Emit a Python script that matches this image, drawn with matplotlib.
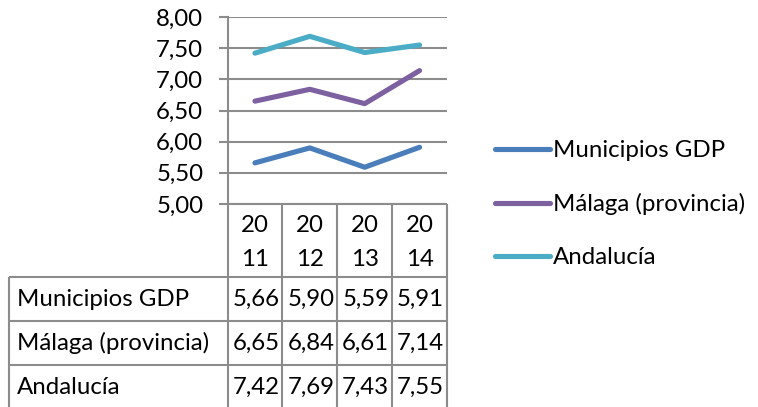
import matplotlib.pyplot as plt
from matplotlib.lines import Line2D

plt.rcParams['font.family'] = ['Lato', 'DejaVu Sans']

# data
years = ['2011', '2012', '2013', '2014']
series_names = ['Municipios GDP', 'Málaga (provincia)', 'Andalucía']
municipios = [5.66, 5.90, 5.59, 5.91]
malaga = [6.65, 6.84, 6.61, 7.14]
andalucia = [7.42, 7.69, 7.43, 7.55]
colors = ['#4A7EBB', '#7D60A0', '#4BACC6']
yticks = [5.0, 5.5, 6.0, 6.5, 7.0, 7.5, 8.0]

W, H = 758, 407
grey = '#8C8C8C'
fs = 17.3

fig = plt.figure(figsize=(W / 100, H / 100), dpi=100)

# plot area in pixels
px0, px1, py0, py1 = 227.5, 447, 17, 204
ax = fig.add_axes([px0 / W, 1 - py1 / H, (px1 - px0) / W, (py1 - py0) / H])
ax.set_xlim(0, len(years))
ax.set_ylim(5, 8)
xs = [i + 0.5 for i in range(len(years))]
lines = []
for vals, name, c in zip([municipios, malaga, andalucia], series_names, colors):
    l, = ax.plot(xs, vals, color=c, lw=3.7, solid_capstyle='round',
                 solid_joinstyle='round', label=name, zorder=3)
    lines.append(l)

ax.set_yticks(yticks)
ax.set_yticklabels([('%.2f' % v).replace('.', ',') for v in yticks])
ax.yaxis.grid(True, color=grey, lw=1.5)
ax.tick_params(axis='y', length=6.5, width=1.5, color=grey, pad=11, labelsize=fs)
ax.set_xticks([])
for s in ['top', 'right', 'bottom']:
    ax.spines[s].set_visible(False)
ax.spines['left'].set_color(grey)
ax.spines['left'].set_linewidth(1.5)

# table drawn in pixel coordinates on an overlay axes
tab = fig.add_axes([0, 0, 1, 1])
tab.set_xlim(0, W)
tab.set_ylim(H, 0)
tab.axis('off')

ncol = len(years)
colw = (px1 - px0) / ncol
col_edges = [px0 + i * colw for i in range(ncol + 1)]
tx0 = 9
head_bot = 277
row_h = 44
row_edges = [head_bot + i * row_h for i in range(len(series_names) + 1)]
lk = dict(color=grey, lw=1.5, solid_capstyle='butt')

# vertical lines
for x in col_edges:
    tab.plot([x, x], [py1, H + 5], **lk)
tab.plot([tx0, tx0], [head_bot, H + 5], **lk)
# horizontal lines
tab.plot([px0, px1], [py1, py1], **lk)
for y in row_edges:
    tab.plot([tx0, px1], [y, y], **lk)

# header: two-line year labels
for i, yr in enumerate(years):
    cx = col_edges[i] + colw / 2
    tab.text(cx, 226, yr[:2], ha='center', va='center', fontsize=fs)
    tab.text(cx, 259, yr[2:], ha='center', va='center', fontsize=fs)

# rows
for r, (name, vals) in enumerate(zip(series_names, [municipios, malaga, andalucia])):
    cy = row_edges[r] + row_h / 2
    tab.text(17, cy, name, ha='left', va='center', fontsize=fs)
    for i, v in enumerate(vals):
        cx = col_edges[i] + colw / 2 + 1
        tab.text(cx, cy, ('%.2f' % v).replace('.', ','), ha='center',
                 va='center', fontsize=fs)

# legend
fig.legend(handles=lines, loc='center left', bbox_to_anchor=(495 / W, 1 - 204 / H),
           frameon=False, fontsize=fs, handlelength=2.3, handletextpad=0.12,
           labelspacing=1.33, borderpad=0, borderaxespad=0)

fig.savefig('out.png', dpi=100)
